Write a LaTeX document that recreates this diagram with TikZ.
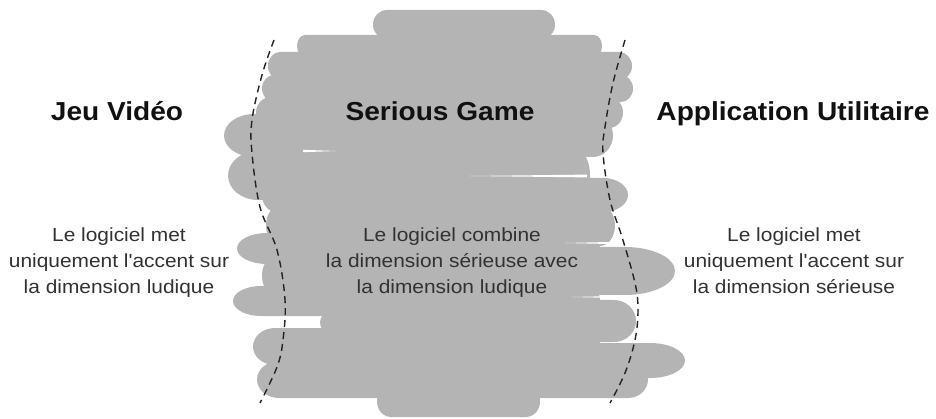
\documentclass[tikz,border=0pt]{standalone}
\usepackage{fontspec}
\setmainfont{Liberation Sans}
\newfontfamily\titlefont[FakeStretch=1.08]{Liberation Sans}
\newfontfamily\bodyfont[FakeStretch=1.1]{Liberation Sans}
\definecolor{blobc}{RGB}{180,180,180}
\definecolor{dashc}{RGB}{35,35,35}
\definecolor{titlec}{RGB}{17,17,17}
\definecolor{bodyc}{RGB}{50,50,50}
% band: top, bottom, left, right, left x-radius, right x-radius (pixels, y downward)
\newcommand\blobband[6]{%
  \pgfmathsetmacro\bhr{(#2-#1)/2}%
  \fill[blobc] ({#3+#5},-#1) -- ({#4-#6},-#1)
    arc[start angle=90,end angle=-90,x radius=#6,y radius=\bhr]
    -- ({#3+#5},-#2)
    arc[start angle=270,end angle=90,x radius=#5,y radius=\bhr] -- cycle;}
\newcommand\whitestreak[4]{% x wide end, x thin end, y, half width
  \fill[white] (#1,{-#3+#4}) .. controls ({(#1+#2)/2},{-#3+#4*0.6}) .. (#2,-#3)
    .. controls ({(#1+#2)/2},{-#3-#4*0.6}) .. (#1,{-#3-#4}) -- cycle;}
\tikzset{
  title/.style={font=\titlefont\bfseries\fontsize{26}{30}\selectfont, text=titlec, anchor=base, inner sep=0pt},
  body/.style={font=\bodyfont\fontsize{19}{26}\selectfont, text=bodyc, align=center, anchor=base, inner sep=0pt},
  divider/.style={draw=dashc, line width=1.4pt, dash pattern=on 7pt off 5pt}
}
\begin{document}
\begin{tikzpicture}[x=1pt,y=1pt]
\useasboundingbox (0,0) rectangle (936,-419);
% grey scribble: solid core plus rounded strokes
\fill[blobc] (330,-40) rectangle (585,-395);
\blobband{10}{39}{373}{555}{14}{14}
\blobband{35}{57}{297}{602}{8}{8}
\blobband{52}{80}{268}{632}{12}{13}
\blobband{75}{102}{262}{633}{12}{12}
\blobband{97}{128}{256}{623}{15}{14}
\blobband{114}{157}{224}{613}{30}{20}
\blobband{151}{200}{228}{590}{30}{12}
\blobband{178}{212}{262}{628}{14}{25}
\blobband{205}{246}{266}{615}{15}{15}
\blobband{233}{264}{237}{600}{30}{12}
\blobband{247}{295}{350}{675}{20}{50}
\blobband{260}{291}{262}{600}{8}{10}
\blobband{286}{316}{233}{600}{28}{10}
\blobband{300}{342}{420}{636}{20}{22}
\blobband{312}{333}{320}{620}{10}{10}
\blobband{328}{365}{253}{600}{22}{10}
\blobband{343}{378}{420}{685}{20}{35}
\blobband{361}{398}{257}{648}{22}{20}
\blobband{386}{417}{377}{540}{14}{14}
% light gaps between strokes
\whitestreak{303}{336}{151}{1.2}
\whitestreak{587}{470}{176}{1.4}
\whitestreak{627}{565}{243}{1.4}
\whitestreak{633}{572}{297}{1.4}
% dashed dividers
\draw[divider] plot[smooth, tension=0.6] coordinates {(274,-40) (262,-75) (252,-120) (252,-153) (260,-207) (277,-250) (285,-300) (283,-340) (277,-367) (260,-403)};
\draw[divider] plot[smooth, tension=0.6] coordinates {(625,-40) (613,-83) (605,-127) (603,-153) (610,-200) (622,-237) (635,-283) (638,-310) (635,-340) (625,-373) (610,-403)};
% titles
\node[title] (tjeu) at (117,-121) {Jeu Vidéo};
\node[title] (tsg) at (440,-121) {Serious Game};
\node[title] (tapp) at (793,-121) {Application Utilitaire};
% descriptions (anchor base = baseline of last line)
\node[body] (djeu) at (119,-294) {Le logiciel met\\uniquement l'accent sur\\la dimension ludique};
\node[body] (dsg) at (452,-294) {Le logiciel combine\\la dimension sérieuse avec\\la dimension ludique};
\node[body] (dapp) at (794,-294) {Le logiciel met\\uniquement l'accent sur\\la dimension sérieuse};
\end{tikzpicture}
\end{document}
